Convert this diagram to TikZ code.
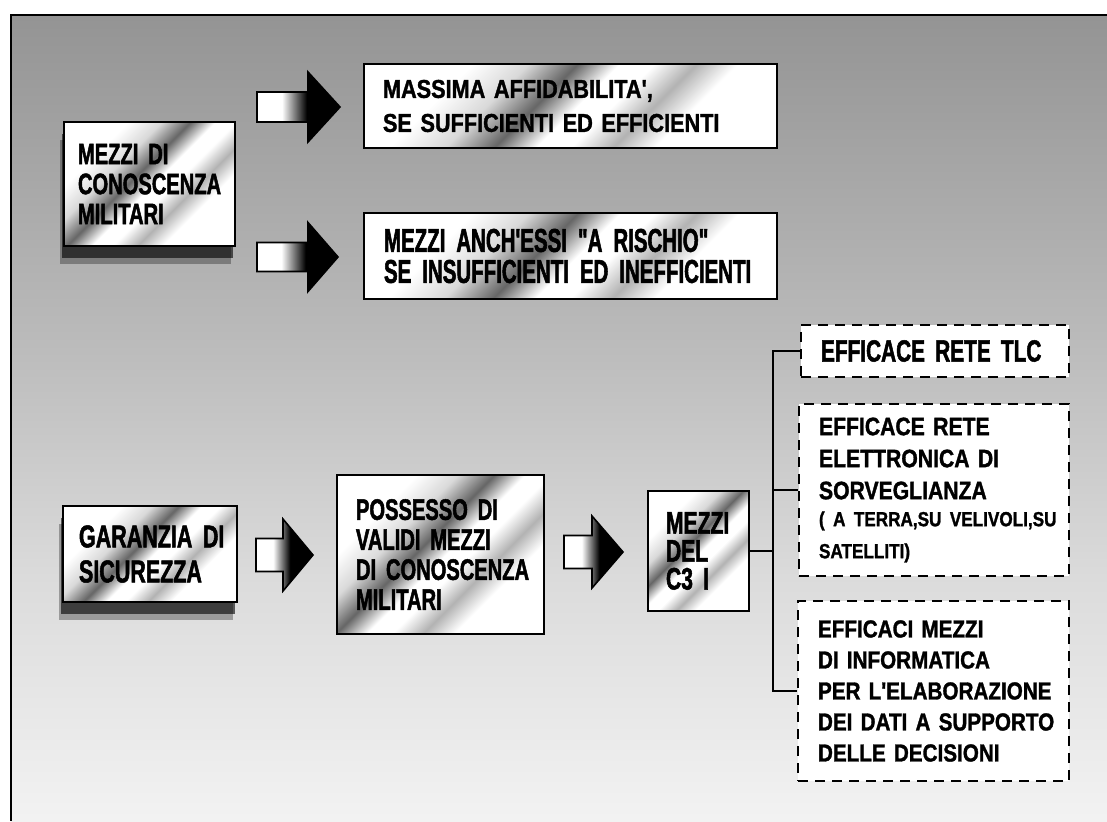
\documentclass[tikz,border=0pt]{standalone}
\usepackage{fontspec}
\newfontfamily\cfa{Liberation Sans}[FakeStretch=0.68, BoldFeatures={FakeBold=1.6}]
\newfontfamily\cfb{Liberation Sans}[FakeStretch=0.84, BoldFeatures={FakeBold=1.3}]
\newfontfamily\cfc{Liberation Sans}[FakeStretch=0.62, BoldFeatures={FakeBold=1.6}]
\usetikzlibrary{shadows}
\newcommand\fA[2]{\cfa\bfseries\fontsize{#1}{#2}\selectfont}
\newcommand\fB[2]{\cfb\bfseries\fontsize{#1}{#2}\selectfont}
\newcommand\fC[2]{\cfc\bfseries\fontsize{#1}{#2}\selectfont}
\newcommand\oneline[1]{\mbox{#1}}
\definecolor{bgb}{gray}{0.95}
\definecolor{bgl}{gray}{0.86}
\definecolor{bgm}{gray}{0.73}
\definecolor{bgt}{gray}{0.58}
\pgfdeclareverticalshading{bgshade}{100bp}{color(0bp)=(bgb); color(25bp)=(bgb); color(40bp)=(bgl); color(55bp)=(bgm); color(75bp)=(bgt); color(100bp)=(bgt)}
\pgfdeclarehorizontalshading{gloss}{100bp}{color(0bp)=(white); color(30bp)=(white); color(38bp)=(gray!30); color(45bp)=(black!60); color(51bp)=(white); color(56bp)=(white); color(62bp)=(gray!60); color(68bp)=(white); color(100bp)=(white)}
\pgfdeclarehorizontalshading{arrowshade}{100bp}{color(0bp)=(white); color(25bp)=(white); color(40bp)=(white); color(55bp)=(black); color(100bp)=(black)}
\newcommand\blockarrow[6]{\path[blockarrow] (#1,#4-#5) -- (#2,#4-#5) -- (#2,#4-#6) -- (#3,#4) -- (#2,#4+#6) -- (#2,#4+#5) -- (#1,#4+#5) -- cycle;}
\tikzset{
  solidbox/.style={draw=black, line width=1pt, shade, shading=gloss, shading angle=-45, anchor=north west, align=left, inner ysep=0pt, text=black},
  dashbox/.style={draw=black, line width=1pt, dash pattern=on 5pt off 3.5pt, fill=white, anchor=north west, align=left, inner ysep=0pt, text=black},
  conn/.style={line width=1pt, draw=black},
  blockarrow/.style={draw=black, line width=0.8pt, shade, shading=arrowshade},
  boxshadow/.style={drop shadow={shadow xshift=-2pt, shadow yshift=-9pt, fill=black, opacity=.3}, drop shadow={shadow xshift=-1pt, shadow yshift=-6pt, fill=black, opacity=.6}},
}
\begin{document}
\begin{tikzpicture}[x=0.5pt, y=-0.5pt]
\useasboundingbox (0,0) rectangle (1107,821);
\fill[white] (0,0) rectangle (1107,821);
\shade[shading=bgshade] (11,15) rectangle (1107,821);
\draw[line width=1.3pt] (11,821) -- (11,15) -- (1107,15);

% top group
\node[solidbox, boxshadow, text width=71.5pt, inner xsep=7pt, minimum height=62pt, font=\fA{14.8}{15}] (conosc) at (63,121) {\oneline{MEZZI DI}\\\oneline{CONOSCENZA}\\\oneline{MILITARI}};
\node[solidbox, text width=187.5pt, inner xsep=9.5pt, minimum height=42pt, font=\fB{12.9}{17}] (massima) at (363,63) {\oneline{MASSIMA AFFIDABILITA',}\\\oneline{SE SUFFICIENTI ED EFFICIENTI}};
\node[solidbox, text width=186.5pt, inner xsep=10pt, minimum height=43pt, font=\fC{16.5}{15.5}] (rischio) at (363,212) {\oneline{MEZZI ANCH'ESSI "A RISCHIO"}\\\oneline{SE INSUFFICIENTI ED INEFFICIENTI}};
\blockarrow{257}{308}{340}{107}{15}{35}
\blockarrow{257}{308}{338}{257}{14.5}{34.5}

% bottom chain
\node[solidbox, boxshadow, text width=71pt, inner xsep=8pt, minimum height=48pt, font=\fA{15.8}{17.5}] (garanzia) at (62,505) {\oneline{GARANZIA DI}\\\oneline{SICUREZZA}};
\node[solidbox, text width=84.5pt, inner xsep=9.5pt, minimum height=79.5pt, font=\fA{14.8}{15}] (possesso) at (336,474) {\oneline{POSSESSO DI}\\\oneline{VALIDI MEZZI}\\\oneline{DI CONOSCENZA}\\\oneline{MILITARI}};
\node[solidbox, text width=32.5pt, inner xsep=9pt, minimum height=60pt, font=\fA{15.5}{14}] (c3i) at (647,490) {\oneline{MEZZI}\\\oneline{DEL}\\\oneline{C3 I}};
\blockarrow{256}{283}{313}{555}{16.5}{36}
\blockarrow{564}{592}{623}{552}{16.5}{36}

% right dashed boxes
\node[dashbox, text width=114pt, inner xsep=10pt, minimum height=26pt, font=\fA{15.3}{15}] (tlc) at (800,324) {\oneline{EFFICACE RETE TLC}};
\node[dashbox, text width=115pt, inner xsep=10pt, minimum height=86pt, font=\fB{12.6}{16}] (elettr) at (798,403) {\oneline{EFFICACE RETE}\\\oneline{ELETTRONICA DI}\\\oneline{SORVEGLIANZA}\par\fontsize{10.2}{13.5}\selectfont \oneline{( A TERRA,SU VELIVOLI,SU}\\\oneline{SATELLITI)}};
\node[dashbox, text width=115.5pt, inner xsep=10pt, minimum height=90pt, font=\fB{12.3}{15.5}] (inform) at (797,600) {\oneline{EFFICACI MEZZI}\\\oneline{DI INFORMATICA}\\\oneline{PER L'ELABORAZIONE}\\\oneline{DEI DATI A SUPPORTO}\\\oneline{DELLE DECISIONI}};

% connectors
\coordinate (busx) at (773,0);
\draw[conn] (c3i.east) -- (c3i.east -| busx);
\draw[conn] (tlc.west) -- (tlc.west -| busx) -- (inform.west -| busx) -- (inform.west);
\draw[conn] (elettr.west -| busx) -- (elettr.west);
\end{tikzpicture}
\end{document}
